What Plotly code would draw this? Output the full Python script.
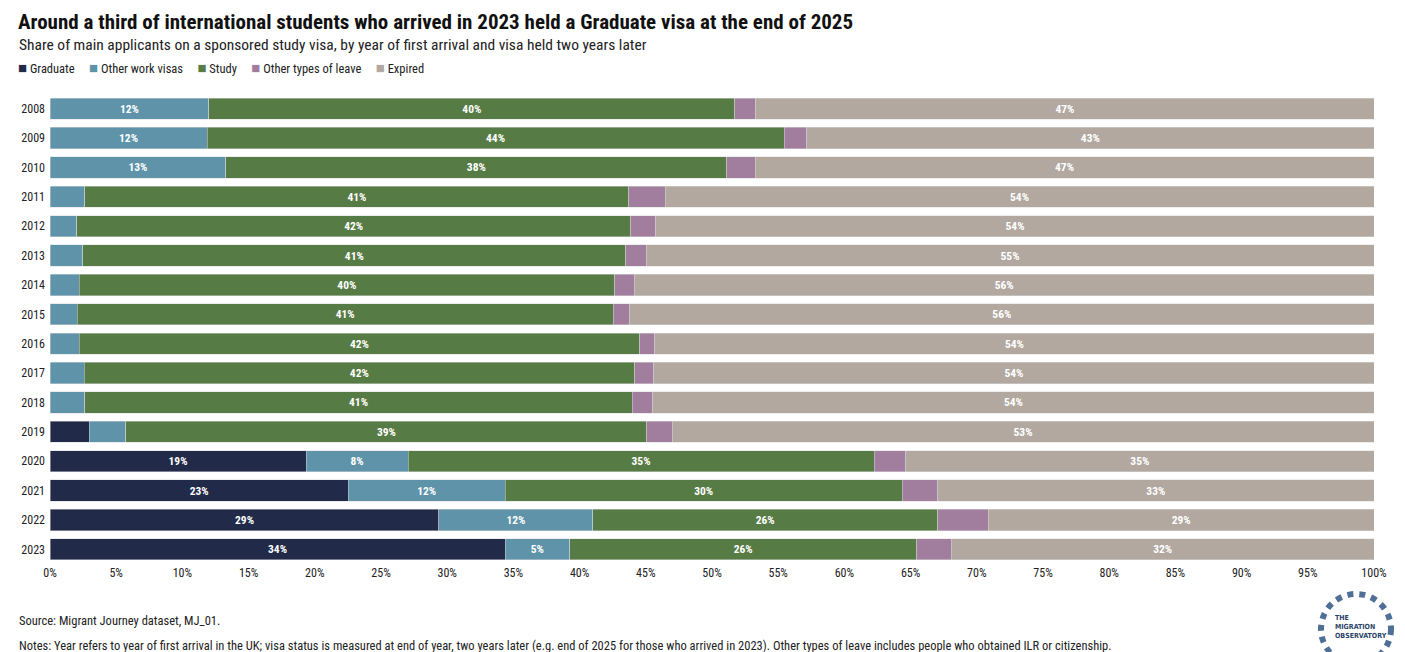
import plotly.graph_objects as go

years = ["2008", "2009", "2010", "2011", "2012", "2013", "2014", "2015",
         "2016", "2017", "2018", "2019", "2020", "2021", "2022", "2023"]

graduate = [0, 0, 0, 0, 0, 0, 0, 0, 0, 0, 0, 2.97, 19.34, 22.53, 29.38, 34.37]
other_work = [12.0, 11.86, 13.29, 2.64, 2.01, 2.47, 2.19, 2.04,
              2.19, 2.57, 2.64, 2.75, 7.70, 11.84, 11.62, 4.88]
study = [39.72, 43.58, 37.82, 41.09, 41.85, 41.03, 40.46, 40.51,
         42.37, 41.59, 41.32, 39.37, 35.20, 30.00, 26.04, 26.21]
other_leave = [1.59, 1.71, 2.14, 2.72, 1.91, 1.52, 1.48, 1.23,
               1.13, 1.44, 1.58, 1.89, 2.39, 2.67, 3.83, 2.62]
expired = [46.70, 42.85, 46.75, 53.55, 54.23, 54.98, 55.87, 56.22,
           54.31, 54.40, 54.46, 53.02, 35.37, 32.96, 29.13, 31.92]

series_names = ["Graduate", "Other work visas", "Study", "Other types of leave", "Expired"]
series_values = [graduate, other_work, study, other_leave, expired]
colors = ["#212a48", "#5e93a9", "#577b45", "#a27e9e", "#b2a89f"]

x_ticks = list(range(0, 101, 5))
x_tick_labels = [f"{v}%" for v in x_ticks]

title_text = "Around a third of international students who arrived in 2023 held a Graduate visa at the end of 2025"
subtitle_text = "Share of main applicants on a sponsored study visa, by year of first arrival and visa held two years later"
source_text = "Source: Migrant Journey dataset, MJ_01."
notes_text = ("Notes: Year refers to year of first arrival in the UK; visa status is measured at end of year, two years later "
              "(e.g. end of 2025 for those who arrived in 2023). Other types of leave includes people who obtained ILR or citizenship.")

FONT = "Liberation Sans Narrow, Roboto Condensed, Lato, sans-serif"

fig = go.Figure()
for name, vals, col in zip(series_names, series_values, colors):
    labels = [f"{round(v)}%" if v >= 4.5 else "" for v in vals]
    fig.add_trace(go.Bar(
        y=years, x=vals, name=name, orientation="h",
        marker=dict(color=col, line=dict(color="rgba(220,220,220,0.8)", width=0.6)),
        text=labels, textposition="inside", insidetextanchor="middle",
        textangle=0, constraintext="none",
        textfont=dict(color="white", size=11.5, family=FONT, weight="bold"),
        showlegend=False,
        hovertemplate=name + " %{y}: %{x:.1f}%<extra></extra>",
    ))

# The page body adds an 8px offset; work in screen pixels and convert.
OFF = 8
W, H = 1405 - OFF, 652 - OFF
L, R, T, B = 50 - OFF, 31, 94 - OFF, 88
pw, ph = W - L - R, H - T - B


def px(x):
    return (x - OFF - L) / pw


def py(y):
    return (H - B - (y - OFF)) / ph


legend_html = "&nbsp;&nbsp;&nbsp;&nbsp;&nbsp;".join(
    f"<span style='color:{c};font-size:15px'>■</span> {n}" for n, c in zip(series_names, colors)
)

fig.update_layout(
    width=W, height=H,
    barmode="stack", bargap=0.28,
    margin=dict(l=L, r=R, t=T, b=B, autoexpand=False),
    plot_bgcolor="white", paper_bgcolor="white",
    font=dict(family=FONT, size=12, color="#222222"),
    annotations=[
        dict(text=f"<b>{title_text}</b>", x=px(17), y=py(22), xref="paper", yref="paper",
             xanchor="left", yanchor="middle", showarrow=False, borderpad=0,
             font=dict(size=21, color="#111111")),
        dict(text=subtitle_text, x=px(17), y=py(45), xref="paper", yref="paper",
             xanchor="left", yanchor="middle", showarrow=False,
             font=dict(size=15.5, color="#222222")),
        dict(text=legend_html, x=px(16), y=py(68), xref="paper", yref="paper",
             xanchor="left", yanchor="middle", showarrow=False,
             font=dict(size=12.5, color="#222222")),
        dict(text=source_text, x=px(17), y=py(620), xref="paper", yref="paper",
             xanchor="left", yanchor="middle", showarrow=False,
             font=dict(size=12.5, color="#222222")),
        dict(text=notes_text, x=px(17), y=py(645), xref="paper", yref="paper",
             xanchor="left", yanchor="middle", showarrow=False,
             font=dict(size=12.5, color="#222222")),
        dict(text="<b>THE<br>MIGRATION<br>OBSERVATORY</b>", x=px(1333), y=py(627), xref="paper", yref="paper",
             xanchor="left", yanchor="middle", showarrow=False, align="left",
             font=dict(size=7, color="#2a4268", family="DejaVu Sans Condensed, sans-serif")),
    ],
    xaxis=dict(range=[0, 100], tickvals=x_ticks, ticktext=x_tick_labels, showgrid=False,
               zeroline=False, showline=False, ticks="", tickfont=dict(size=12, color="#222222")),
    yaxis=dict(categoryorder="array", categoryarray=years, autorange="reversed",
               showgrid=False, ticks="", showline=False, ticklabelstandoff=4,
               tickfont=dict(size=12, color="#222222")),
    shapes=[
        dict(type="circle", xref="paper", yref="paper",
             x0=px(1321), x1=px(1391), y0=py(594), y1=py(664),
             line=dict(color="#4f6f96", width=6, dash="dot")),
    ],
)

fig.write_html("out.html")
